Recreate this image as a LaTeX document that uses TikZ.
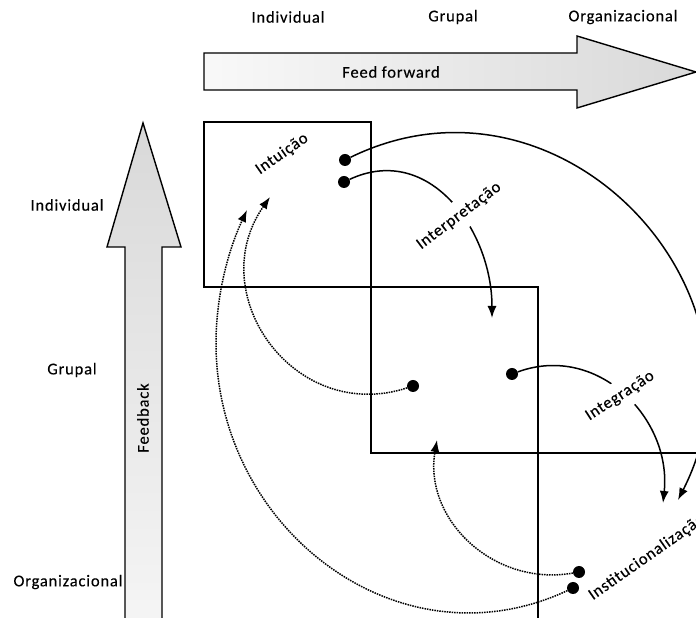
\documentclass[tikz,border=0pt]{standalone}
\usepackage{fontspec}
\setmainfont{Carlito}[LetterSpace=5,FakeBold=0.3]
\usetikzlibrary{arrows.meta}
\begin{document}
\begin{tikzpicture}[x=1pt,y=1pt,
  lbl/.style={font=\fontsize{16.5}{19}\selectfont, inner sep=1pt},
  dotnode/.style={circle, fill=black, minimum size=12pt, inner sep=0pt},
  boxline/.style={line width=1.4pt},
  conn/.style={line width=1.5pt, -{Latex[length=12pt,width=9pt]}},
  dotconn/.style={conn, dash pattern=on 1.5pt off 1pt},
  cut/.style={lbl, fill=white, inner xsep=1pt, inner ysep=8pt},
  bigarrow/.style={draw, line width=1.4pt, line join=miter}
]
\useasboundingbox (0,0) rectangle (696,618);
\clip (0,0) rectangle (696,618);

% big arrows
\draw[bigarrow, left color=gray!5, right color=gray!30]
  (204,565) -- (577,565) -- (577,582) -- (696,546) -- (577,510) -- (577,528) -- (204,528) -- cycle;
\draw[bigarrow, bottom color=gray!8, top color=gray!30]
  (125,-5) -- (125,371) -- (107,371) -- (143,495) -- (181,371) -- (162,371) -- (162,-5) -- cycle;

% boxes
\draw[boxline] (204,331) rectangle (371,496);
\draw[boxline] (371,165) rectangle (538,331);
\draw[boxline] (538,-3) rectangle (705,165);

% dots and ends
\node[dotnode] (D1) at (345,458) {};
\node[dotnode] (D2) at (344,436) {};
\node[dotnode] (D3) at (413,232) {};
\node[dotnode] (D4) at (512,244) {};
\node[dotnode] (D5) at (579,46) {};
\node[dotnode] (D6) at (573,30) {};
\coordinate (E1) at (678,118);
\coordinate (E2) at (492,300);
\coordinate (E3) at (270,421);
\coordinate (E4) at (663,115);
\coordinate (E5) at (437,178);
\coordinate (E6) at (247,408);
\coordinate (W6) at (216,275);

% connectors
\draw[conn] (D1) to[out=26,in=63,looseness=1.26] (E1);
\draw[conn] (D2) to[out=25,in=90,looseness=1.13] (E2);
\draw[dotconn] (D3) to[out=198,in=235,looseness=1.29] (E3);
\draw[conn] (D4) to[out=20,in=84,looseness=1.11] (E4);
\draw[dotconn] (D5) to[out=190,in=260,looseness=1.08] (E5);
\draw[dotconn] (D6) to[out=205,in=270,looseness=1.11] (W6)
                    to[out=90,in=245,looseness=0.86] (E6);

% labels
\node[lbl] (tI) at (288,601) {Individual};
\node[lbl] (tG) at (453,601) {Grupal};
\node[lbl] (tO) at (623,601) {Organizacional};
\node[lbl] (lI) at (67,413) {Individual};
\node[lbl] (lG) at (72,248) {Grupal};
\node[lbl] (lO) at (68,36) {Organizacional};
\node[lbl] (ff) at (391,546) {Feed forward};
\node[lbl, rotate=90] (fb) at (143,200) {Feedback};
\node[lbl, rotate=35] (int) at (282,464) {Intuição};
\node[cut, rotate=37] (itp) at (459,402) {Interpretação};
\node[cut, rotate=33] (itg) at (620,222) {Integração};
\node[lbl, rotate=35, anchor=base west] (ins) at (592,17) {Institucionalização};
\end{tikzpicture}
\end{document}
